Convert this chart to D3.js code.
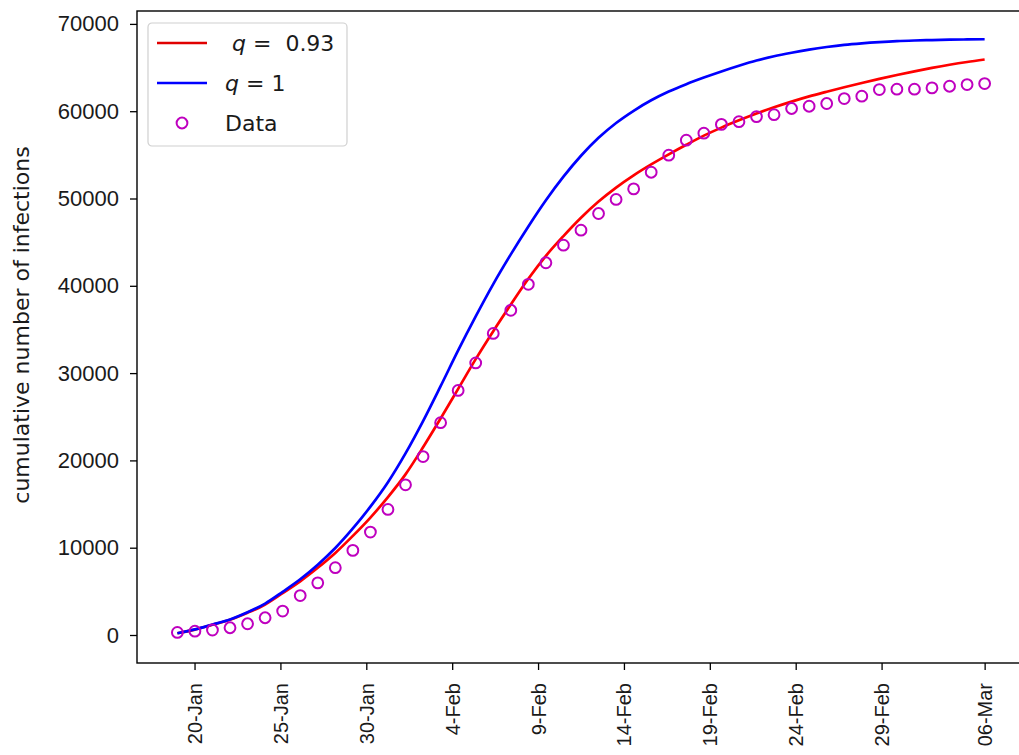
<!DOCTYPE html>
<html>
<head>
<meta charset="utf-8">
<script src="https://cdn.jsdelivr.net/npm/d3@7"></script>
<style>
  html, body { margin: 0; padding: 0; background: #fff; }
  svg { display: block; font-family: "DejaVu Sans", sans-serif; }
  .tick text { fill: #1a1a1a; }
</style>
</head>
<body>
<svg id="chart" width="1019" height="755"></svg>
<script>
// Cumulative confirmed infections, one value per day (20 Jan .. 6 Mar)
const observed = [291, 440, 571, 830, 1287, 1975, 2744, 4515, 5974, 7711,
  9692, 11791, 14380, 17205, 20438, 24324, 28018, 31161, 34546, 37198,
  40171, 42638, 44653, 46370, 48280, 49890, 51100, 53010, 54960, 56680,
  57480, 58490, 58800, 59380, 59600, 60310, 60570, 60880, 61450, 61720,
  62480, 62520, 62520, 62670, 62860, 63050, 63170];

// Model fit with q = 0.93
const fitQ093 = [200, 620, 1180, 1750, 2550, 3500, 4800, 6150, 7700, 9400,
  11350, 13450, 15800, 18400, 21500, 24800, 28200, 31600, 34800, 37850,
  40800, 43430, 45700, 47800, 49650, 51250, 52650, 53900, 55050, 56150,
  57200, 58120, 58950, 59730, 60450, 61100, 61700, 62230, 62740, 63230,
  63700, 64150, 64570, 64960, 65320, 65640, 65920];

// Model fit with q = 1
const fitQ1 = [200, 640, 1200, 1780, 2600, 3600, 4950, 6380, 8050, 9960,
  12200, 14700, 17500, 20800, 24500, 28500, 32600, 36500, 40200, 43600,
  46800, 49800, 52500, 54900, 56950, 58650, 60050, 61250, 62250, 63100,
  63850, 64550, 65200, 65800, 66300, 66700, 67050, 67350, 67600, 67780,
  67920, 68030, 68100, 68150, 68190, 68220, 68240];

// Time axis (days since start) and its labelled ticks
const spanDays = 47;
const tickDays = [1, 6, 11, 16, 21, 26, 31, 36, 41, 47];
const tickLabels = ["20-Jan", "25-Jan", "30-Jan", "4-Feb", "9-Feb",
  "14-Feb", "19-Feb", "24-Feb", "29-Feb", "06-Mar"];
const yTicks = [0, 10000, 20000, 30000, 40000, 50000, 60000, 70000];

const svg = d3.select("#chart");
const plot = { left: 137, right: 1025, top: 11, bottom: 663 };

// sample times evenly spread over the span
const t = observed.map((_, i) => i * spanDays / (observed.length - 1));

const x = d3.scaleLinear()
  .domain([-0.05 * spanDays, 1.05 * spanDays])
  .range([plot.left, plot.right]);
const y = d3.scaleLinear()
  .domain([-3207, 71478])
  .range([plot.bottom, plot.top]);

// curves
const line = d3.line()
  .x((d, i) => x(t[i])).y(d => y(d))
  .curve(d3.curveMonotoneX);
svg.append("path").datum(fitQ093)
  .attr("d", line).attr("fill", "none")
  .attr("stroke", "#ff0000").attr("stroke-width", 2.7);
svg.append("path").datum(fitQ1)
  .attr("d", line).attr("fill", "none")
  .attr("stroke", "#0000ff").attr("stroke-width", 2.7);

// observations as open circles
svg.append("g").selectAll("circle").data(observed).join("circle")
  .attr("cx", (d, i) => x(t[i])).attr("cy", d => y(d))
  .attr("r", 5.4).attr("fill", "none")
  .attr("stroke", "#bf00bf").attr("stroke-width", 2);

// axes
const xAxis = d3.axisBottom(x).tickValues(tickDays)
  .tickFormat((d, i) => tickLabels[i]).tickSize(7).tickPadding(6);
const gx = svg.append("g").attr("transform", `translate(0,${plot.bottom})`).call(xAxis);
gx.select(".domain").remove();
gx.selectAll(".tick line").attr("stroke", "#000").attr("stroke-width", 1.3);
gx.selectAll(".tick text")
  .attr("font-size", 20)
  .attr("transform", "rotate(-90)")
  .attr("text-anchor", "end")
  .attr("x", -20).attr("y", 0).attr("dy", "0.35em");

const yAxis = d3.axisLeft(y).tickValues(yTicks).tickFormat(d3.format("d"))
  .tickSize(7).tickPadding(11);
const gy = svg.append("g").attr("transform", `translate(${plot.left},0)`).call(yAxis);
gy.select(".domain").remove();
gy.selectAll(".tick line").attr("stroke", "#000").attr("stroke-width", 1.3);
gy.selectAll(".tick text").attr("font-size", 22);

// frame
svg.append("rect")
  .attr("x", plot.left).attr("y", plot.top)
  .attr("width", plot.right - plot.left).attr("height", plot.bottom - plot.top)
  .attr("fill", "none").attr("stroke", "#000").attr("stroke-width", 1.4);

// y axis title
svg.append("text")
  .attr("transform", "translate(29,325) rotate(-90)")
  .attr("text-anchor", "middle")
  .attr("font-size", 22).attr("fill", "#1a1a1a")
  .text("cumulative number of infections");

// legend
const legend = svg.append("g").attr("transform", "translate(148,23)");
legend.append("rect")
  .attr("width", 199).attr("height", 123).attr("rx", 4)
  .attr("fill", "#fff").attr("fill-opacity", 0.85)
  .attr("stroke", "#d0d0d0").attr("stroke-width", 1.2);

const entries = [
  { kind: "line", color: "#e00000", y: 20, q: "q", rest: " =  0.93", tx: 84 },
  { kind: "line", color: "#0000ff", y: 60, q: "q", rest: " = 1", tx: 77 },
  { kind: "dot", color: "#bf00bf", y: 100, q: null, rest: "Data", tx: 77 }
];
entries.forEach(e => {
  if (e.kind === "line") {
    legend.append("line")
      .attr("x1", 9).attr("x2", 59).attr("y1", e.y).attr("y2", e.y)
      .attr("stroke", e.color).attr("stroke-width", 2.7);
  } else {
    legend.append("circle")
      .attr("cx", 34).attr("cy", e.y).attr("r", 5.4)
      .attr("fill", "none").attr("stroke", e.color).attr("stroke-width", 2);
  }
  const txt = legend.append("text")
    .attr("x", e.tx).attr("y", e.y).attr("dy", "0.36em")
    .attr("font-size", 22).attr("fill", "#1a1a1a")
    .style("white-space", "pre");
  if (e.q) {
    txt.append("tspan").attr("font-style", "italic").text(e.q);
  }
  txt.append("tspan").text(e.rest);
});
</script>
</body>
</html>
